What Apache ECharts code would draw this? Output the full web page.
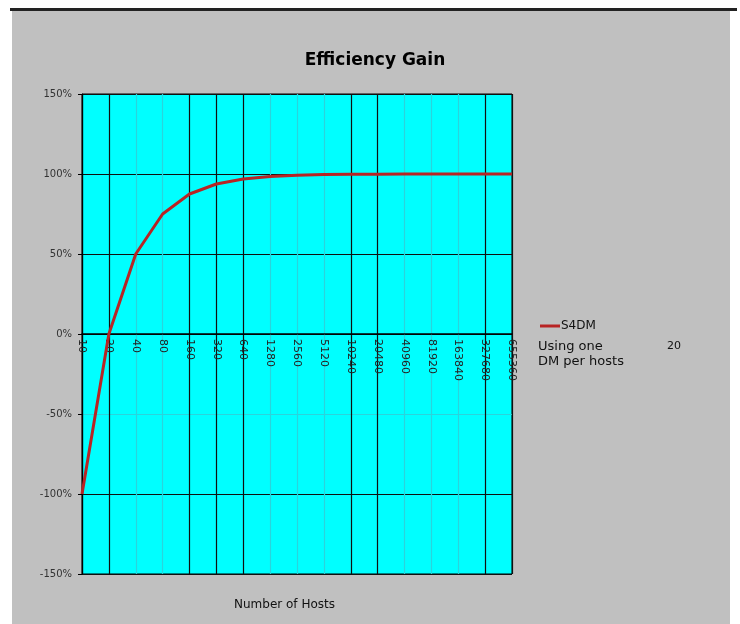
<!DOCTYPE html>
<html>
<head>
<meta charset="utf-8">
<script src="https://cdn.jsdelivr.net/npm/echarts@6/dist/echarts.min.js"></script>
<style>
html,body{margin:0;padding:0;background:#fff;}
#bg{position:absolute;left:12px;top:10px;width:718px;height:614px;background:#c0c0c0;}
#topline{position:absolute;left:10px;top:8px;width:727px;height:3px;background:#222;}
#chart{position:absolute;left:0;top:0;width:740px;height:624px;}
</style>
</head>
<body>
<div id="bg"></div>
<div id="topline"></div>
<div id="chart"></div>
<script>
const categories = ['10','20','40','80','160','320','640','1280','2560','5120','10240','20480','40960','81920','163840','327680','655360'];
const s4dmValues = [-100, 0, 50, 75, 87.5, 93.75, 96.88, 98.44, 99.22, 99.61, 99.8, 99.9, 99.95, 99.98, 99.99, 99.99, 100];
const seriesName = 'S4DM';
const xAxisTitle = 'Number of Hosts';
const noteLines = ['Using one', 'DM per hosts'];
const noteValue = '20';

const font = 'DejaVu Sans, Liberation Sans, Arial, sans-serif';
const dark = '#101010', faint = '#2ad4dc';
const chart = echarts.init(document.getElementById('chart'));
chart.setOption({
  backgroundColor: 'transparent',
  animation: false,
  title: {
    text: 'Efficiency Gain', left: 370, top: 47, textAlign: 'center',
    textStyle: {fontFamily: font, fontSize: 17, fontWeight: 'bold', color: '#000'}
  },
  legend: {
    left: 535, top: 315, icon: 'rect', itemWidth: 20, itemHeight: 3, itemGap: 2,
    textStyle: {fontFamily: font, fontSize: 12, color: '#111', padding: [0,0,0,-4]},
    data: [seriesName]
  },
  grid: {
    left: 82, right: 228, top: 94, bottom: 50, show: true,
    backgroundColor: '#00ffff', borderColor: '#000', borderWidth: 1
  },
  xAxis: {
    type: 'category', data: categories, boundaryGap: false,
    offset: -240,
    axisLine: {onZero: false, lineStyle: {color: '#000', width: 1.5}},
    axisTick: {show: false},
    axisLabel: {rotate: -90, fontFamily: font, fontSize: 11, color: '#222', margin: 5, interval: 0},
    splitLine: {show: true, interval: 0, lineStyle: {width: 1.2, color: [dark, dark, faint, faint, dark, dark, dark, faint, faint, faint, dark, dark, faint, faint, faint, dark, dark]}}
  },
  yAxis: {
    type: 'value', min: -150, max: 150, interval: 50,
    axisLine: {show: true, lineStyle: {color: '#000', width: 1.2}},
    axisTick: {show: true, length: 4, lineStyle: {color: '#000'}},
    axisLabel: {formatter: '{value}%', fontFamily: font, fontSize: 10, color: '#333', margin: 10},
    splitLine: {show: true, lineStyle: {width: 1.2, color: [dark, dark, faint, dark, dark, dark, dark]}}
  },
  series: [{
    name: seriesName, type: 'line', data: s4dmValues, symbol: 'none', smooth: false,
    lineStyle: {color: '#b82424', width: 3},
    itemStyle: {color: '#b82424'}
  }],
  graphic: [
    {type: 'text', left: 234, top: 599, style: {text: xAxisTitle, font: '12px ' + font, fill: '#111'}},
    {type: 'text', left: 538, top: 340, style: {text: noteLines[0], font: '13px ' + font, fill: '#111'}},
    {type: 'text', left: 667, top: 341, style: {text: noteValue, font: '11px ' + font, fill: '#111'}},
    {type: 'text', left: 538, top: 355, style: {text: noteLines[1], font: '13px ' + font, fill: '#111'}}
  ]
});
</script>
</body>
</html>
